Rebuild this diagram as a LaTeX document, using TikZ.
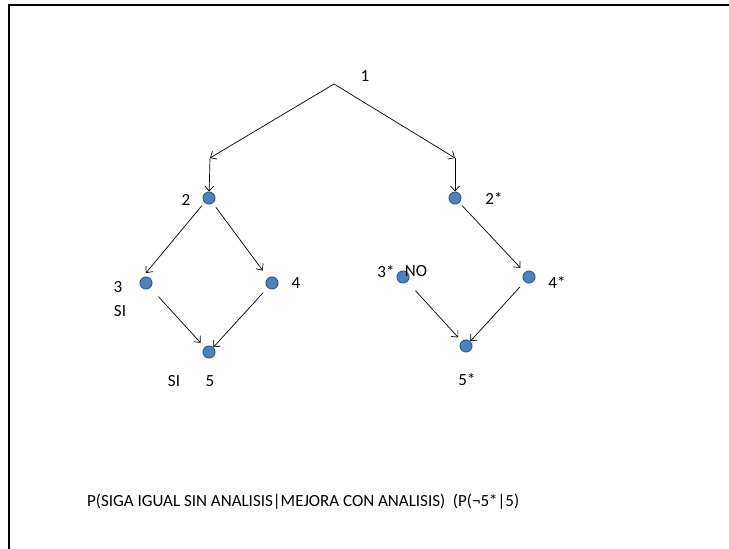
\documentclass[tikz,border=0pt]{standalone}
\usepackage{fontspec}
\setmainfont{Carlito}
\usetikzlibrary{arrows.meta, positioning}
\definecolor{dotblue}{RGB}{79,129,189}
\definecolor{dotrim}{RGB}{56,93,138}

\begin{document}
\begin{tikzpicture}[x=1pt, y=-1pt,
every node/.style={font=\fontsize{17}{20}\selectfont, inner sep=0pt},
dot/.style={circle, fill=dotblue, draw=dotrim, line width=1pt, minimum size=12pt},
edge/.style={->, line width=0.7pt},
>={Straight Barb[length=5pt,width=9pt]}]

  \useasboundingbox (0,0) rectangle (729,549);
  % slide frame
  \draw[line width=1.5pt] (9,549) -- (9,5) -- (729,5);

  \coordinate (root) at (334,84);
  \coordinate (lbend) at (210,158);
  \coordinate (rbend) at (455,158);

  \node[dot] (n2) at (209,198) {};
  \node[dot] (n3) at (146,283) {};
  \node[dot] (n4) at (272,283) {};
  \node[dot] (n5) at (209,352) {};
  \node[dot] (n2s) at (455,198) {};
  \node[dot] (n3s) at (403,277) {};
  \node[dot] (n4s) at (529,277) {};
  \node[dot] (n5s) at (466,346) {};

  \node (l1) at (365,76) {1};
  \node (l2) at (186,200) {2};
  \node (l3) at (118,287) {3};
  \node (l3si) at (120,311) {SI};
  \node (l4) at (296,283) {4};
  \node (l5si) at (174,381) {SI};
  \node (l5) at (210,381) {5};
  \node (l2s) at (494,198) {2*};
  \node (l3s) at (386,272) {3*};
  \node (l3no) at (416,271) {NO};
  \node (l4s) at (557,282) {4*};
  \node (l5s) at (467,380) {5*};

  \node[anchor=west] (prob) at (87,502) {P(SIGA IGUAL SIN ANALISIS|MEJORA CON ANALISIS)\ \ (P(¬5*|5)};

  \draw[edge] (root) -- (lbend);
  \draw[edge] (root) -- (rbend);
  \draw[edge] (lbend) -- (n2);
  \draw[edge] (rbend) -- (n2s);
  \draw[edge, shorten <=4pt, shorten >=7pt] (n2.225) -- (n3.135);
  \draw[edge, shorten <=5pt, shorten >=9pt] (n2) -- (n4);
  \draw[edge, shorten <=12pt, shorten >=6pt] (n3) -- (n5);
  \draw[edge, shorten <=7pt] (n4) -- (n5);
  \draw[edge, shorten <=4pt, shorten >=6pt] (n2s) -- (n4s);
  \draw[edge, shorten <=12pt, shorten >=5pt] (n3s) -- (n5s);
  \draw[edge, shorten <=7pt] (n4s) -- (n5s);

\end{tikzpicture}
\end{document}
